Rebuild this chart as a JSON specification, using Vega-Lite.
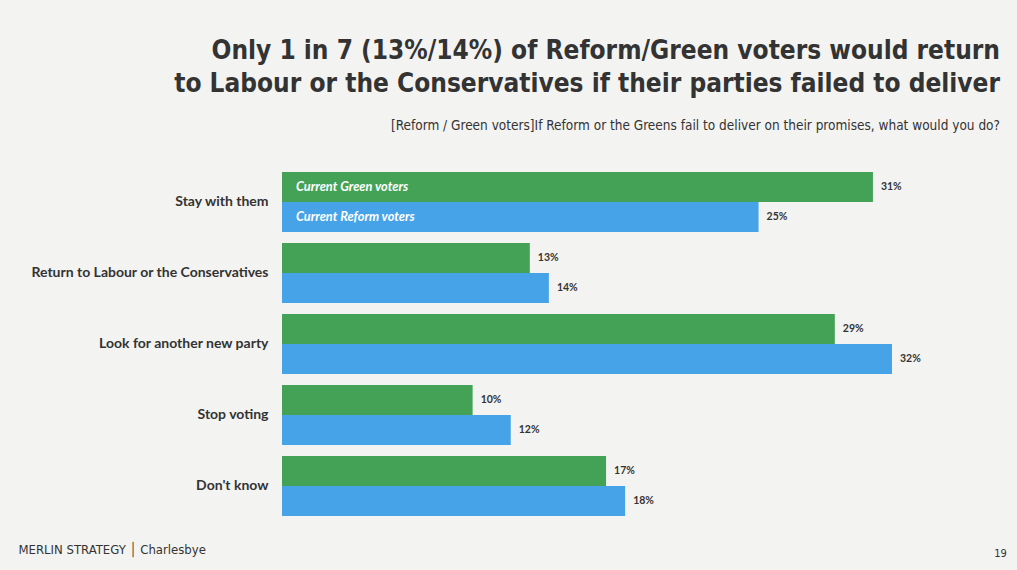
{
  "$schema": "https://vega.github.io/schema/vega-lite/v6.json",
  "width": 610,
  "height": 344,
  "autosize": {"type": "none"},
  "padding": {"left": 282, "top": 172, "right": 125, "bottom": 54},
  "background": "#f3f3f2",
  "config": {"view": {"stroke": null}, "font": "Lato"},
  "title": {
    "text": ["Only 1 in 7 (13%/14%) of Reform/Green voters would return", "to Labour or the Conservatives if their parties failed to deliver"],
    "subtitle": "[Reform / Green voters]If Reform or the Greens fail to deliver on their promises, what would you do?  ",
    "anchor": "end",
    "frame": "group",
    "dx": 108,
    "offset": 40,
    "font": "DejaVu Sans Condensed",
    "fontSize": 26,
    "fontWeight": "bold",
    "color": "#333333",
    "lineHeight": 33,
    "subtitleFont": "DejaVu Sans Condensed",
    "subtitleFontSize": 13.5,
    "subtitleColor": "#333333",
    "subtitlePadding": 22
  },
  "data": {
    "values": [
      {"answer": "Stay with them", "series": "Current Green voters", "value": 0.31},
      {"answer": "Stay with them", "series": "Current Reform voters", "value": 0.25},
      {"answer": "Return to Labour or the Conservatives", "series": "Current Green voters", "value": 0.13},
      {"answer": "Return to Labour or the Conservatives", "series": "Current Reform voters", "value": 0.14},
      {"answer": "Look for another new party", "series": "Current Green voters", "value": 0.29},
      {"answer": "Look for another new party", "series": "Current Reform voters", "value": 0.32},
      {"answer": "Stop voting", "series": "Current Green voters", "value": 0.10},
      {"answer": "Stop voting", "series": "Current Reform voters", "value": 0.12},
      {"answer": "Don't know", "series": "Current Green voters", "value": 0.17},
      {"answer": "Don't know", "series": "Current Reform voters", "value": 0.18}
    ]
  },
  "encoding": {
    "y": {
      "field": "answer",
      "type": "nominal",
      "sort": null,
      "scale": {"paddingInner": 0.155, "paddingOuter": 0},
      "axis": {
        "title": "19",
        "titleAngle": 0,
        "titleX": 718,
        "titleY": 381,
        "titleAlign": "center",
        "titleBaseline": "middle",
        "titleFont": "DejaVu Sans Condensed",
        "titleFontSize": 11,
        "titleFontWeight": "normal",
        "titleColor": "#333333",
        "domain": false,
        "ticks": false,
        "labelPadding": 14,
        "labelLimit": 320,
        "labelFontSize": 14,
        "labelFontWeight": "bold",
        "labelColor": "#333333",
        "labelFont": "Lato"
      }
    },
    "yOffset": {
      "field": "series",
      "type": "nominal",
      "sort": ["Current Green voters", "Current Reform voters"],
      "scale": {"paddingInner": 0, "paddingOuter": 0}
    }
  },
  "layer": [
    {
      "mark": {"type": "bar"},
      "encoding": {
        "x": {
          "field": "value",
          "type": "quantitative",
          "scale": {"domain": [0, 0.32], "nice": false},
          "axis": {
            "title": "MERLIN STRATEGY │ Charlesbye",
            "titleX": -264,
            "titleY": 33,
            "titleAlign": "left",
            "titleAnchor": "start",
            "titleBaseline": "middle",
            "titleFont": "DejaVu Sans Condensed",
            "titleFontSize": 13,
            "titleFontWeight": "normal",
            "titleColor": "#333333",
            "labels": false,
            "ticks": false,
            "domain": false,
            "grid": false
          }
        },
        "color": {
          "field": "series",
          "type": "nominal",
          "scale": {"domain": ["Current Green voters", "Current Reform voters"], "range": ["#44a257", "#47a3e8"]},
          "legend": null
        }
      }
    },
    {
      "mark": {"type": "text", "align": "left", "baseline": "middle", "dx": 8, "fontSize": 10.5, "fontWeight": "bold", "color": "#333333", "font": "Lato"},
      "encoding": {
        "x": {"field": "value", "type": "quantitative"},
        "text": {"field": "value", "type": "quantitative", "format": ".0%"}
      }
    },
    {
      "transform": [{"filter": "datum.answer === 'Stay with them'"}],
      "mark": {"type": "text", "align": "left", "baseline": "middle", "dx": 14, "fontSize": 12.8, "fontWeight": "bold", "fontStyle": "italic", "color": "#ffffff", "font": "Lato"},
      "encoding": {
        "x": {"datum": 0, "type": "quantitative"},
        "text": {"field": "series", "type": "nominal"}
      }
    }
  ]
}
